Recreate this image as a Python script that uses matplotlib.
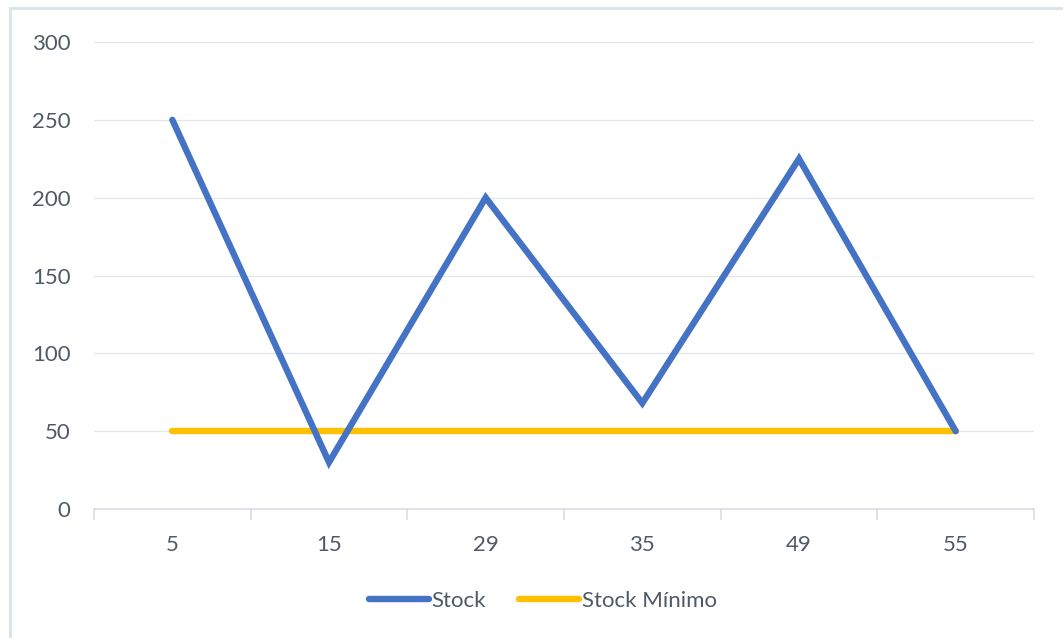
import numpy as np
import matplotlib.pyplot as plt
from matplotlib.patches import Rectangle

categories = ["5", "15", "29", "35", "49", "55"]
stock = [250, 30, 200, 68, 225, 50]
stock_min = [50, 50, 50, 50, 50, 50]

W, H = 1063, 638
fig = plt.figure(figsize=(W / 100, H / 100), dpi=100)
plt.rcParams['font.family'] = ['Lato', 'DejaVu Sans']
text_col = "#505a66"

# outer chart frame (cut off at right/bottom like the screenshot)
fig.patches.append(Rectangle((10 / W, -0.05), 1.1, (H - 8) / H + 0.05,
                             transform=fig.transFigure, fill=False,
                             edgecolor="#dce2ea", linewidth=2))

ax = fig.add_axes([94 / W, (H - 509) / H, 940 / W, 467 / H])
x = np.arange(len(categories))
ax.plot(x, stock, color="#4472c4", linewidth=4.6, solid_capstyle="round",
        solid_joinstyle="miter", label="Stock", zorder=3)
ax.plot(x, stock_min, color="#ffc000", linewidth=4.6, solid_capstyle="round",
        label="Stock Mínimo", zorder=2)

ax.set_xlim(-0.5, len(categories) - 0.5)
ax.set_ylim(0, 300)
ax.set_yticks(range(0, 301, 50))
ax.set_xticks(x)
ax.set_xticklabels(categories)
ax.set_xticks(np.arange(-0.5, len(categories), 1), minor=True)
ax.grid(axis="y", color="#e3e6ea", linewidth=1)
ax.set_axisbelow(True)
for s in ["top", "right", "left"]:
    ax.spines[s].set_visible(False)
ax.spines["bottom"].set_color("#d9dde3")
ax.spines["bottom"].set_linewidth(1.2)
ax.tick_params(axis="y", length=0, pad=17, labelsize=16, labelcolor=text_col)
ax.tick_params(axis="x", which="major", length=0, pad=19, labelsize=16,
               labelcolor=text_col)
ax.tick_params(axis="x", which="minor", length=8, color="#d9dde3", width=1.2)

leg = fig.legend(loc="center", bbox_to_anchor=(543 / W, (H - 601) / H), ncol=2,
                 frameon=False, fontsize=16, handlelength=2.7, handletextpad=0.1,
                 columnspacing=1.5)
for t in leg.get_texts():
    t.set_color(text_col)

fig.savefig("out.png", dpi=100)
